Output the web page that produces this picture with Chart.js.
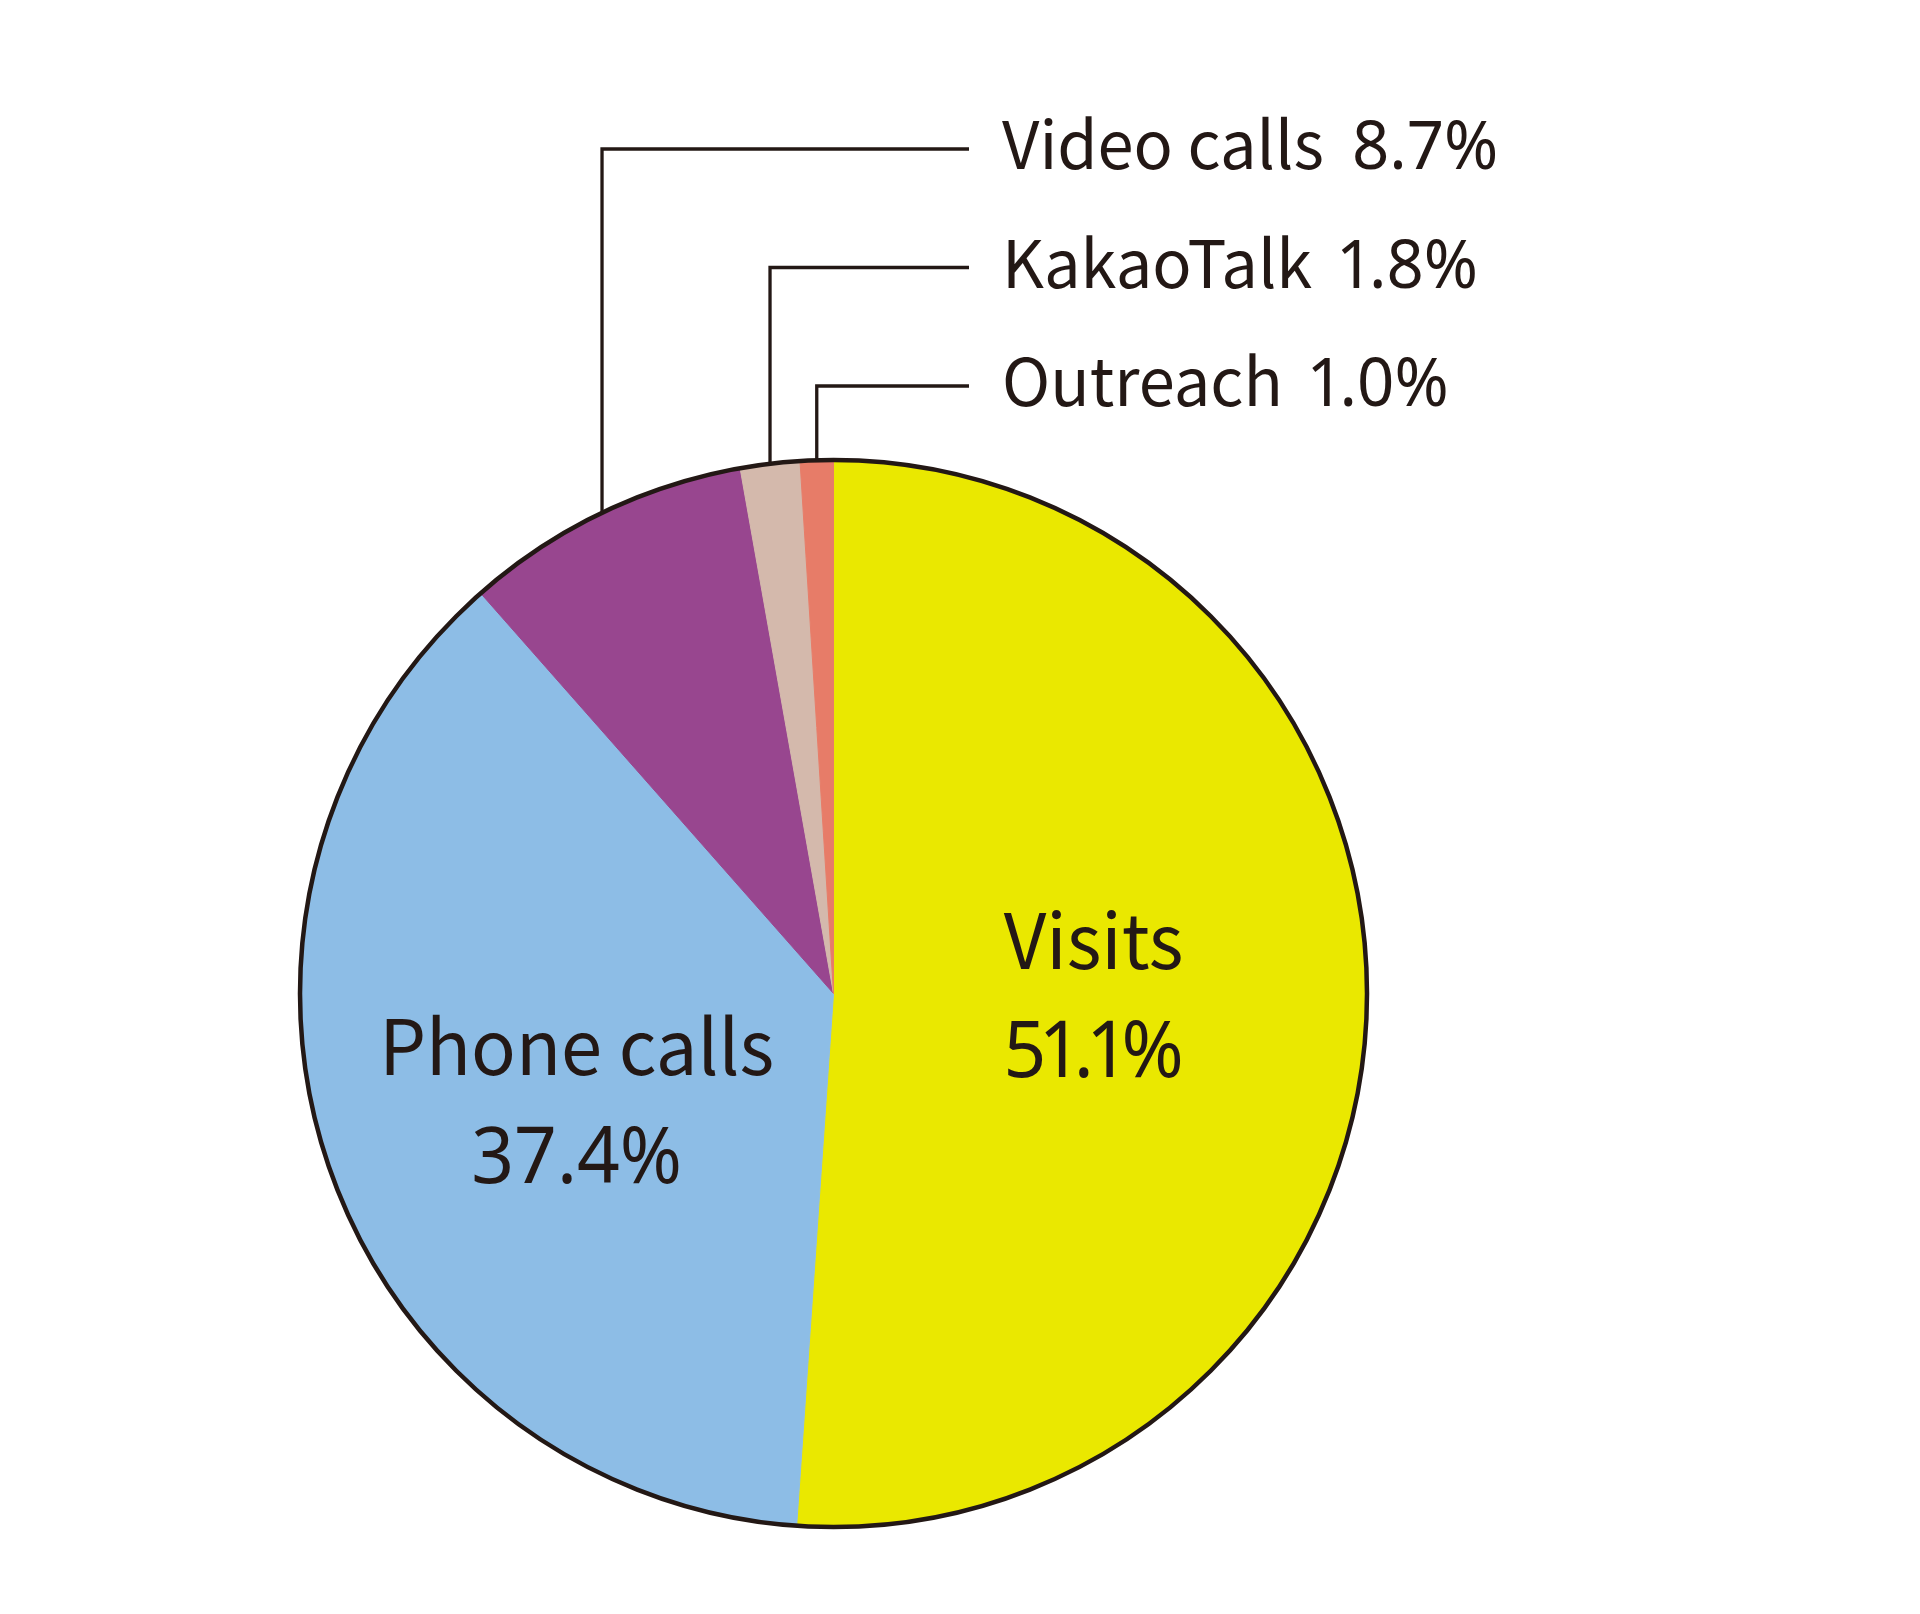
<!DOCTYPE html>
<html>
<head>
<meta charset="utf-8">
<script src="https://cdn.jsdelivr.net/npm/chart.js@4"></script>
<style>
  html, body { margin: 0; padding: 0; background: #fff; }
  #wrap { width: 1920px; height: 1614px; position: relative; }
</style>
</head>
<body>
<div id="wrap"><canvas id="pie"></canvas></div>
<script>
const categories = ['Visits', 'Phone calls', 'Video calls', 'KakaoTalk', 'Outreach'];
const shares = [51.1, 37.4, 8.7, 1.8, 1.0];
const valueLabels = ['51.1%', '37.4%', '8.7%', '1.8%', '1.0%'];
const sliceColours = ['#eae800', '#8dbde6', '#98468f', '#d4b9ac', '#e77c68'];

const ink = '#231815';
const nameFont = '"Noto Sans CJK KR", "Noto Sans", sans-serif';
const numberFont = '"Noto Sans", "Noto Sans CJK KR", sans-serif';

// label layout
const insideSlices = [0, 1];
const insideRadius = [0.488, 0.522];
const insideTurn = [-1.6, -3.9];      // degrees off the slice middle
const calloutSlices = [2, 3, 4];
const calloutBaseline = 169;
const calloutStep = 118.5;
const calloutTextX = 1002;
const calloutLineEnd = 969;

// the source font has a narrow "1" and runs a little tighter than Noto
function drawName(ctx, str, x, y, squeeze) {
  ctx.save();
  ctx.translate(x, y);
  ctx.scale(squeeze, 1);
  ctx.fillText(str, 0, 0);
  ctx.restore();
  return ctx.measureText(str).width * squeeze;
}

function drawValue(ctx, str, x, y, align, squeeze, narrowOne) {
  const chars = str.split('');
  const adv = chars.map(c => ctx.measureText(c).width - (c === '1' ? narrowOne : 0));
  const total = adv.reduce((s, v) => s + v, 0) * squeeze;
  let pos = align === 'center' ? x - total / 2 : x;
  ctx.save();
  ctx.textAlign = 'left';
  chars.forEach((c, i) => {
    ctx.save();
    ctx.translate(pos, y);
    ctx.scale(squeeze, 1);
    ctx.fillText(c, c === '1' ? -narrowOne / 2 : 0, 0);
    ctx.restore();
    pos += adv[i] * squeeze;
  });
  ctx.restore();
  return total;
}

const pieLabels = {
  id: 'pieLabels',
  afterDatasetsDraw(chart) {
    const ctx = chart.ctx;
    const arcs = chart.getDatasetMeta(0).data;
    const cx = arcs[0].x, cy = arcs[0].y, r = arcs[0].outerRadius;

    ctx.save();
    // outer rim only, no lines between slices
    ctx.beginPath();
    ctx.arc(cx, cy, r + 0.5, 0, Math.PI * 2);
    ctx.lineWidth = 4.5;
    ctx.strokeStyle = ink;
    ctx.stroke();

    ctx.fillStyle = ink;
    ctx.textBaseline = 'alphabetic';

    // big slices get their label inside
    insideSlices.forEach((i, k) => {
      const a = arcs[i];
      const mid = (a.startAngle + a.endAngle) / 2 + insideTurn[k] * Math.PI / 180;
      const d = r * insideRadius[k];
      const x = cx + d * Math.cos(mid);
      const y = cy + d * Math.sin(mid);
      ctx.textAlign = 'center';
      ctx.font = '400 76px ' + nameFont;
      drawName(ctx, categories[i], x, y - 26, 0.975);
      ctx.font = '400 78px ' + numberFont;
      drawValue(ctx, valueLabels[i], x, y + 82, 'center', 0.96, 16);
    });

    // small slices get a leader line up to the right
    ctx.textAlign = 'left';
    ctx.lineWidth = 3.3;
    calloutSlices.forEach((i, k) => {
      const a = arcs[i];
      const mid = (a.startAngle + a.endAngle) / 2;
      const px = cx + r * Math.cos(mid);
      const py = cy + r * Math.sin(mid);
      const base = calloutBaseline + k * calloutStep;
      const ly = base - 20;
      ctx.beginPath();
      ctx.moveTo(px, py);
      ctx.lineTo(px, ly);
      ctx.lineTo(calloutLineEnd, ly);
      ctx.stroke();
      ctx.font = '400 66px ' + nameFont;
      const w = drawName(ctx, categories[i], calloutTextX, base, 0.985);
      ctx.font = '400 68px ' + numberFont;
      drawValue(ctx, valueLabels[i], calloutTextX + w + 28, base, 'left', 0.96, 9);
    });
    ctx.restore();
  }
};

new Chart(document.getElementById('pie'), {
  type: 'pie',
  data: {
    labels: categories,
    datasets: [{
      data: shares,
      backgroundColor: sliceColours,
      borderColor: sliceColours,
      borderWidth: 1
    }]
  },
  options: {
    responsive: true,
    maintainAspectRatio: false,
    animation: false,
    devicePixelRatio: 1,
    layout: { padding: { left: 300, right: 553, top: 460, bottom: 87 } },
    plugins: {
      legend: { display: false },
      tooltip: { enabled: false }
    }
  },
  plugins: [pieLabels]
});
</script>
</body>
</html>
